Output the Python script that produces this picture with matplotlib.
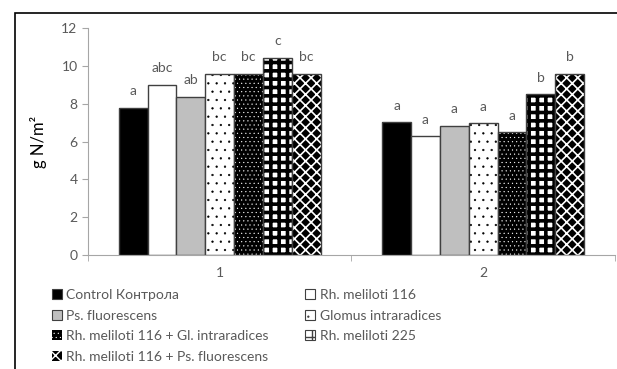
import matplotlib.pyplot as plt
import matplotlib.patches as mpatches
import numpy as np

plt.rcParams['font.family'] = ['Lato', 'DejaVu Sans']

treatments = ['Control Контрола', 'Rh. meliloti 116', 'Ps. fluorescens',
              'Glomus intraradices', 'Rh. meliloti 116 + Gl. intraradices',
              'Rh. meliloti 225', 'Rh. meliloti 116 + Ps. fluorescens']
groups = ['1', '2']
values = [
    [7.78, 7.02],
    [9.0, 6.28],
    [8.38, 6.83],
    [9.59, 6.98],
    [9.59, 6.5],
    [10.44, 8.49],
    [9.59, 9.59],
]
letters = [
    ['a', 'a'],
    ['abc', 'a'],
    ['ab', 'a'],
    ['bc', 'a'],
    ['bc', 'a'],
    ['c', 'b'],
    ['bc', 'b'],
]

# face, hatch, hatch colour, hatch linewidth
styles = [
    ('black', None, 'black', 1.0),
    ('white', None, 'black', 1.0),
    ('#bfbfbf', None, 'black', 1.0),
    ('white', '..', 'black', 0.4),
    ('black', '....', 'white', 0.3),
    ('white', '++', 'black', 2.6),
    ('black', 'xxx', 'white', 1.2),
]

text_grey = '#595959'
axis_grey = '#a6a6a6'
edge = '#404040'


def set_hlw(artists, lw):
    for a in artists:
        if hasattr(a, 'set_hatch_linewidth'):
            a.set_hatch_linewidth(lw)


fig = plt.figure(figsize=(6.17, 3.69), dpi=100)
ax = fig.add_axes([0.1426, 0.309, 0.854, 0.615])

x = np.arange(len(groups))
w = 0.1096
handles = []
for i, (name, vals) in enumerate(zip(treatments, values)):
    face, hatch, hcol, hlw = styles[i]
    pos = x + (i - 3) * w
    bars = ax.bar(pos, vals, w, color=face, hatch=hatch, edgecolor=hcol,
                  linewidth=0)
    set_hlw(bars, hlw)
    ax.bar(pos, vals, w, fill=False, edgecolor=edge, linewidth=1.0)
    if hcol == 'white':
        h = mpatches.Patch(facecolor=face, hatch=hatch, edgecolor=hcol,
                           linewidth=0)
    else:
        h = mpatches.Patch(facecolor=face, hatch=hatch, edgecolor=edge,
                           linewidth=0.8)
    handles.append(h)
    for p, v, t in zip(pos, vals, letters[i]):
        ax.text(p, v + 0.55, t, ha='center', va='bottom', fontsize=10,
                color=text_grey)

ax.set_xlim(-0.5, 1.5)
ax.set_ylim(0, 12)
ax.set_yticks(range(0, 13, 2))
ax.set_xticks(x)
ax.set_xticklabels(groups)
ax.set_xticks([-0.5, 0.5, 1.5], minor=True)
ax.tick_params(axis='x', which='major', length=0, pad=9, labelsize=10,
               labelcolor=text_grey)
ax.tick_params(axis='x', which='minor', length=4, color=axis_grey)
ax.tick_params(axis='y', length=4, color=axis_grey, labelsize=10,
               labelcolor=text_grey)
for s in ['top', 'right']:
    ax.spines[s].set_visible(False)
ax.spines['left'].set_color(axis_grey)
ax.spines['bottom'].set_color(axis_grey)
ax.set_ylabel('g N/m²', fontsize=12, color='black', labelpad=10)

order = [0, 2, 4, 6, 1, 3, 5]
leg = fig.legend([handles[k] for k in order], [treatments[k] for k in order],
                 ncol=2, frameon=False, loc='upper left',
                 bbox_to_anchor=(0.075, 0.232), fontsize=10,
                 labelcolor=text_grey, handlelength=0.75, handleheight=0.75,
                 handletextpad=0.3, labelspacing=0.62, columnspacing=2.6,
                 borderaxespad=0)
set_hlw([leg.get_patches()[j] for j in range(len(order))], 0.4)
for j, k in enumerate(order):
    set_hlw([leg.get_patches()[j]], min(styles[k][3], 1.0))

border = mpatches.Rectangle((15 / 617, -0.05), 1.1, 1 - 13 / 369 + 0.05,
                            transform=fig.transFigure, fill=False,
                            edgecolor='black', linewidth=1.2)
fig.patches.append(border)

fig.savefig('out.png', dpi=100)
